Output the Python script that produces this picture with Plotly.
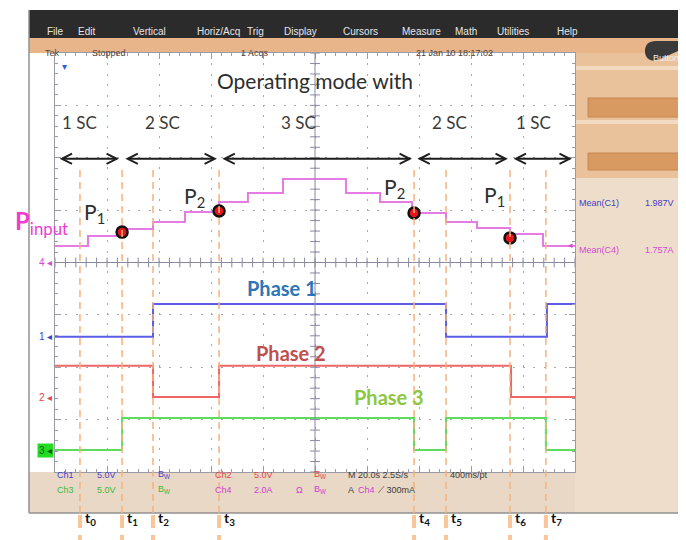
import numpy as np
import plotly.graph_objects as go

W, H = 686, 540
OX, OY = 8, 8  # page body margin

# time axis: M 20.0 s/div, 10 divisions -> 0..200 s
t_marks = [9.6, 25.8, 37.7, 63.1, 138.1, 150.4, 175.0, 188.8]
t_names = ['t<sub>0</sub>', 't<sub>1</sub>', 't<sub>2</sub>', 't<sub>3</sub>',
           't<sub>4</sub>', 't<sub>5</sub>', 't<sub>6</sub>', 't<sub>7</sub>']

# gate signals (V) and input current (A), step times in s
ch1_t = [0, 37.7, 150.4, 189.2, 200]
ch1_v = [0, 3.15, 0, 3.15, 3.15]
ch2_t = [0, 37.7, 63.1, 175.4, 200]
ch2_v = [3.0, 0, 3.0, 0, 0]
ch3_t = [0, 25.8, 138.1, 150.4, 188.8, 200]
ch3_v = [0, 3.05, 0, 3.05, 0, 0]
ch4_t = [0, 12.7, 25.8, 37.7, 50.0, 63.1, 74.2, 87.7, 111.9, 125.0, 137.3,
         150.4, 162.3, 175.0, 187.7, 200]
ch4_a = [0.63, 1.01, 1.28, 1.55, 1.93, 2.31, 2.65, 3.19, 2.65, 2.31, 1.89,
         1.55, 1.32, 1.09, 0.63, 0.63]

# operating points
p_t = [25.8, 63.1, 138.1, 175.0]
p_a = [1.16, 1.97, 1.89, 0.94]
p_names = ['P<sub>1</sub>', 'P<sub>2</sub>', 'P<sub>2</sub>', 'P<sub>1</sub>']
p_label_t = [10.4, 48.8, 125.8, 164.2]
p_label_div = [0.95, 1.25, 1.42, 1.27]

# operating modes
mode_names = ['1 SC', '2 SC', '3 SC', '2 SC', '1 SC']
mode_start = [1.2, 26.5, 63.8, 138.8, 175.8]
mode_end = [24.6, 62.3, 137.3, 174.2, 198.8]
mode_label_t = [9.6, 41.5, 93.5, 151.9, 184.2]

# channel position (div) and scale (per div)
ch_pos = [-1.42, -2.57, -3.58, 0.0]
ch_scale = [5.0, 5.0, 5.0, 2.0]

BLUE, RED, GREEN, PINK = '#5C5CE6', '#EE6666', '#5EDC5E', '#E47CE4'
UI = 'Liberation Sans Narrow, Arial Narrow, Liberation Sans, sans-serif'
TXT = 'Lato, Open Sans, sans-serif'


def px(x):
    return (x - OX) / W


def py(y):
    return 1 - (y - OY) / H


fig = go.Figure()

# graticule centre cross ticks
fig.add_trace(go.Scatter(x=np.arange(0, 200.01, 4), y=[0] * 51, mode='markers',
                         marker=dict(symbol='line-ns', size=7, line=dict(width=1, color='#8888a0')),
                         hoverinfo='skip', showlegend=False))
fig.add_trace(go.Scatter(x=[100] * 41, y=np.arange(-4, 4.01, 0.2), mode='markers',
                         marker=dict(symbol='line-ew', size=7, line=dict(width=1, color='#8888a0')),
                         hoverinfo='skip', showlegend=False))

for i, (tt, vv, col) in enumerate([(ch1_t, ch1_v, BLUE), (ch2_t, ch2_v, RED),
                                   (ch3_t, ch3_v, GREEN), (ch4_t, ch4_a, PINK)]):
    fig.add_trace(go.Scatter(x=tt, y=vv, mode='lines', line=dict(color=col, width=2, shape='hv'),
                             yaxis='y%d' % (i + 2), showlegend=False, hoverinfo='skip'))

fig.add_trace(go.Scatter(x=p_t, y=p_a, mode='markers', yaxis='y5', showlegend=False,
                         marker=dict(size=11, color='#E8141C', line=dict(color='#111', width=2.5))))

ax_common = dict(showticklabels=False, zeroline=False, showline=True, linecolor='#9a9aa8',
                 linewidth=1, mirror='ticks', ticks='inside', tickcolor='#9a9aa8', ticklen=6,
                 showgrid=True, gridcolor='#a8a8a8', griddash='2px,8.4px', gridwidth=1,
                 minor=dict(ticks='inside', ticklen=3, tickcolor='#9a9aa8', showgrid=False))

fig.update_layout(
    width=W, height=H, margin=dict(l=0, r=0, t=0, b=0), autosize=False,
    paper_bgcolor='white', plot_bgcolor='white', showlegend=False,
    xaxis=dict(domain=[px(55), px(575)], range=[0, 200], dtick=20,
               **{**ax_common, 'minor': dict(ax_common['minor'], dtick=4)}),
    yaxis=dict(domain=[py(472), py(53)], range=[-4, 4], dtick=1,
               **{**ax_common, 'minor': dict(ax_common['minor'], dtick=0.2)}),
)
for i in range(4):
    lo = (-4 - ch_pos[i]) * ch_scale[i]
    hi = (4 - ch_pos[i]) * ch_scale[i]
    fig.layout['yaxis%d' % (i + 2)] = dict(overlaying='y', range=[lo, hi], visible=False)

# centre lines
fig.add_shape(type='line', xref='x', yref='y', x0=100, x1=100, y0=-4, y1=4,
              line=dict(color='#8888a0', width=1))
fig.add_shape(type='line', xref='x', yref='y', x0=0, x1=200, y0=0, y1=0,
              line=dict(color='#8888a0', width=1))

# --- scope frame ---
def rect(x0, y0, x1, y1, fill, line=None):
    fig.add_shape(type='rect', xref='paper', yref='paper', x0=px(x0), x1=px(x1),
                  y0=py(y1), y1=py(y0), fillcolor=fill, layer='below',
                  line=dict(width=1 if line else 0, color=line or fill))


rect(29, 10, 700, 38, '#2B2B2B')
rect(29, 38, 700, 53, '#E8B48A')
rect(575, 53, 700, 178, '#E9C29C')
rect(575, 66, 700, 70, '#F3DAC2')
rect(575, 120, 700, 124, '#F3DAC2')
rect(588, 98, 683, 117, '#D99A62', '#C88650')
rect(588, 153, 683, 170, '#D99A62', '#C88650')
rect(575, 178, 700, 513, '#EEDDCB')
rect(29, 472, 575, 513, '#E9D8C6')
fig.add_shape(type='line', xref='paper', yref='paper', x0=px(29), x1=px(29), y0=py(513), y1=py(10),
              line=dict(color='#909090', width=1.5))
fig.add_shape(type='line', xref='paper', yref='paper', x0=px(29), x1=px(700), y0=py(513), y1=py(513),
              line=dict(color='#909090', width=1.5))
fig.add_shape(type='path', xref='paper', yref='paper', layer='below',
              path='M %f,%f L %f,%f Q %f,%f %f,%f L %f,%f Q %f,%f %f,%f Z' % (
                  px(700), py(41), px(656), py(41), px(645), py(41), px(645), py(51),
                  px(645), py(51), px(645), py(61), px(656), py(61)),
              fillcolor='#3A3A3A', line=dict(width=0))

menu = ['File', 'Edit', 'Vertical', 'Horiz/Acq', 'Trig', 'Display', 'Cursors',
        'Measure', 'Math', 'Utilities', 'Help']
menu_x = [45, 76, 131, 195, 255, 300, 360, 421, 479, 531, 580]
for m, x in zip(menu, menu_x):
    fig.add_annotation(x=px(x), y=py(24), xref='paper', yref='paper', text=m, showarrow=False,
                       font=dict(family=UI, size=10, color='#E6E6E6'))
for s, x in zip(['Tek', 'Stopped', '1 Acqs', '21 Jan 10 18:17:02'], [43, 90, 255, 495]):
    fig.add_annotation(x=px(x), y=py(46), xref='paper', yref='paper', text=s, showarrow=False,
                       font=dict(family=UI, size=9, color='#5A4434'))
fig.add_annotation(x=px(651), y=py(51), xref='paper', yref='paper', text='Buttons', showarrow=False,
                   xanchor='left', font=dict(family=UI, size=9, color='#F0F0F0'))

status = [('Ch1', 55, 482, '#4444CC'), ('5.0V', 95, 482, '#4444CC'), ('B<sub>W</sub>', 156, 482, '#4444CC'),
          ('Ch2', 213, 482, '#E04848'), ('5.0V', 252, 482, '#E04848'), ('B<sub>W</sub>', 312, 482, '#E04848'),
          ('M 20.0s 2.5S/s', 346, 482, '#3C3C3C'), ('400ms/pt', 448, 482, '#3C3C3C'),
          ('Ch3', 55, 497, '#3CB83C'), ('5.0V', 95, 497, '#3CB83C'), ('B<sub>W</sub>', 156, 497, '#3CB83C'),
          ('Ch4', 213, 497, '#D040D0'), ('2.0A', 252, 497, '#D040D0'), ('Ω', 294, 497, '#D040D0'),
          ('B<sub>W</sub>', 312, 497, '#D040D0'), ('A', 346, 497, '#3C3C3C'),
          ('Ch4', 356, 497, '#D040D0'), ('⟋ 300mA', 376, 497, '#3C3C3C')]
for s, x, y, c in status:
    fig.add_annotation(x=px(x), y=py(y), xref='paper', yref='paper', text=s, showarrow=False,
                       xanchor='left', font=dict(family=UI, size=9, color=c))

for s, x, y, c in [('Mean(C1)', 577, 203, '#4040C8'), ('1.987V', 643, 203, '#4040C8'),
                   ('Mean(C4)', 577, 250, '#D848D8'), ('1.757A', 643, 250, '#D848D8')]:
    fig.add_annotation(x=px(x), y=py(y), xref='paper', yref='paper', text=s, showarrow=False,
                       xanchor='left', font=dict(family=UI, size=9, color=c))

# channel ground markers
for i, (lab, col) in enumerate([('1', '#4040C8'), ('2', '#E04848'), ('3', '#0A5A0A'), ('4', '#D848D8')]):
    kw = dict(bgcolor='#22DD22') if lab == '3' else {}
    fig.add_annotation(x=px(54), y=0, xref='paper', yref='y%d' % (i + 2), text=lab + ' ◂',
                       showarrow=False, xanchor='right', font=dict(family=UI, size=10, color=col), **kw)
fig.add_annotation(x=px(575), y=0.7, xref='paper', yref='y5', text='◂', showarrow=False,
                   xanchor='right', font=dict(size=9, color='#D848D8'))
fig.add_annotation(x=3.8, y=py(57), xref='x', yref='paper', text='▾', showarrow=False,
                   font=dict(size=10, color='#3060D0'))

# time markers
for t, n in zip(t_marks, t_names):
    fig.add_shape(type='line', xref='x', yref='paper', x0=t, x1=t, y0=py(513), y1=py(165),
                  line=dict(color='#F4B27C', width=1.5, dash='7px,5px'))
    fig.add_shape(type='line', xref='x', yref='paper', x0=t, x1=t, y0=0, y1=py(513),
                  line=dict(color='#F8C69A', width=4, dash='13px,7px'))
    fig.add_annotation(x=t, y=py(530), xref='x', yref='paper', text='<b>' + n + '</b>',
                       showarrow=False, xanchor='left', xshift=3,
                       font=dict(family=TXT, size=14, color='#111'))

# mode arrows and labels
for s, e in zip(mode_start, mode_end):
    fig.add_annotation(x=e, y=1.98, ax=s, ay=1.98, xref='x', yref='y', axref='x', ayref='y',
                       text='', showarrow=True, arrowhead=5, startarrowhead=5, arrowside='end+start',
                       arrowsize=1, startarrowsize=1, arrowwidth=2, arrowcolor='#1E1E1E')
for n, t in zip(mode_names, mode_label_t):
    fig.add_annotation(x=t, y=2.68, xref='x', yref='y', text=n, showarrow=False,
                       font=dict(family=TXT, size=17, color='#3A3A3A'))
fig.add_annotation(x=100, y=3.48, xref='x', yref='y', text='Operating mode with', showarrow=False,
                   font=dict(family=TXT, size=21, color='#2E2E2E'))

for n, t, d in zip(p_names, p_label_t, p_label_div):
    fig.add_annotation(x=t, y=d, xref='x', yref='y', text=n, showarrow=False, xanchor='left',
                       font=dict(family=TXT, size=21, color='#2E2E2E'))

fig.add_annotation(x=px(13), y=py(222), xref='paper', yref='paper', text='<b>P</b><sub>input</sub>',
                   showarrow=False, xanchor='left', font=dict(family=TXT, size=24, color='#F03CD2'))

for n, t, d, c in [('Phase 1', 87.3, -0.49, '#2E75B6'), ('Phase 2', 90.8, -1.73, '#C0504D'),
                   ('Phase 3', 128.5, -2.57, '#8DC73F')]:
    fig.add_annotation(x=t, y=d, xref='x', yref='y', text='<b>' + n + '</b>', showarrow=False,
                       font=dict(family=TXT, size=20, color=c))

fig.write_html('out.html')
